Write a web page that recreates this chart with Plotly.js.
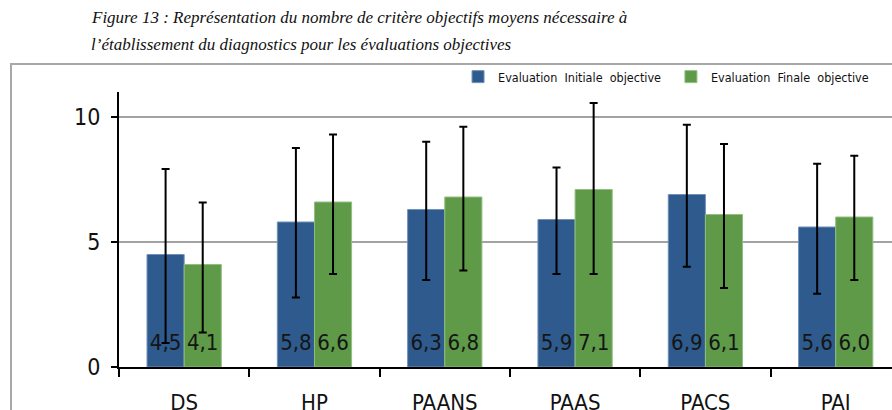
<!DOCTYPE html>
<html>
<head>
<meta charset="utf-8">
<script src="https://cdn.plot.ly/plotly-3.0.1.min.js"></script>
<style>html,body{margin:0;padding:0;background:#fff;}#chart{width:892px;height:410px;}</style>
</head>
<body>
<div id="chart"></div>
<script>
const categories = ['DS', 'HP', 'PAANS', 'PAAS', 'PACS', 'PAI'];
const initiale = [4.5, 5.8, 6.3, 5.9, 6.9, 5.6];
const finale = [4.1, 6.6, 6.8, 7.1, 6.1, 6.0];
const initialePlus = [3.42, 2.96, 2.71, 2.08, 2.79, 2.53];
const initialeMinus = [3.54, 3.02, 2.82, 2.18, 2.89, 2.67];
const finalePlus = [2.48, 2.70, 2.81, 3.46, 2.82, 2.45];
const finaleMinus = [2.72, 2.88, 2.94, 3.38, 2.94, 2.52];
const seriesNames = ['Evaluation  Initiale  objective', 'Evaluation  Finale  objective'];
const titleLine1 = 'Figure 13 : Représentation du nombre de critère objectifs moyens nécessaire à';
const titleLine2 = 'l’établissement du diagnostics pour les évaluations objectives';

const sans = 'Liberation Sans Narrow, DejaVu Sans Condensed, Lato, sans-serif';
const fmt = v => v.toFixed(1).replace('.', ',');
const labelLevel = 0.9; // vertical position of the value labels, in axis units

function barTrace(name, y, plus, minus, color, edge, legendId) {
  return {
    type: 'bar', name: name, x: categories, y: y, legend: legendId,
    marker: {color: color, line: {color: edge, width: 1}},
    error_y: {type: 'data', symmetric: false, array: plus, arrayminus: minus,
              color: '#000', thickness: 2, width: 4},
    hoverinfo: 'none'
  };
}
function labelTrace(y) {
  return {
    type: 'scatter', mode: 'text', x: categories, y: categories.map(() => labelLevel),
    text: y.map(fmt), textposition: 'middle center',
    textfont: {family: sans, size: 22, color: '#151515'},
    showlegend: false, hoverinfo: 'none'
  };
}

const data = [
  barTrace(seriesNames[0], initiale, initialePlus, initialeMinus, '#2E5A8D', '#7190B8', 'legend'),
  barTrace(seriesNames[1], finale, finalePlus, finaleMinus, '#5E9A48', '#93BE80', 'legend2'),
  labelTrace(initiale),
  labelTrace(finale)
];

const legendStyle = {orientation: 'h', xanchor: 'left', y: 1.0545, yanchor: 'middle',
  font: {family: sans, size: 12.5, color: '#111'}, bgcolor: 'rgba(0,0,0,0)'};

const layout = {
  width: 892, height: 410,
  margin: {l: 119, r: 0, t: 92, b: 43, pad: 0},
  paper_bgcolor: '#fff', plot_bgcolor: '#fff',
  barmode: 'group', bargap: 0.43, bargroupgap: 0,
  scattermode: 'group', scattergap: 0.43,
  font: {family: sans, color: '#111'},
  showlegend: true,
  legend: Object.assign({}, legendStyle, {x: 0.4386}),
  legend2: Object.assign({}, legendStyle, {x: 0.714}),
  xaxis: {type: 'category', range: [-0.5, 5.432], showline: true, linecolor: '#000', linewidth: 2,
          ticks: 'outside', tickson: 'boundaries', ticklen: 8, tickwidth: 2, tickcolor: '#000',
          tickfont: {family: sans, size: 22, color: '#111'}, ticklabelstandoff: 15,
          showgrid: false, zeroline: false, fixedrange: true},
  yaxis: {range: [0, 11], tickvals: [0, 5, 10], ticktext: ['0', '5', '10'],
          showline: true, linecolor: '#000', linewidth: 2,
          ticks: 'outside', ticklen: 6, tickwidth: 2, tickcolor: '#000',
          tickfont: {family: sans, size: 23, color: '#111'}, ticklabelstandoff: 6,
          showgrid: true, gridcolor: '#A3A3A3', gridwidth: 2, zeroline: false, fixedrange: true},
  shapes: [{type: 'rect', xref: 'paper', yref: 'paper', x0: -0.1397, x1: 1.05, y0: -0.5, y1: 1.1018,
            line: {color: '#A8A8A8', width: 2}, fillcolor: 'rgba(0,0,0,0)', layer: 'below'}],
  annotations: [
    {text: titleLine1, xref: 'paper', yref: 'paper', x: -0.0388, y: 1.2727, xanchor: 'left', yanchor: 'middle',
     showarrow: false, font: {family: 'Liberation Serif, serif', style: 'italic', size: 17, color: '#111'}},
    {text: titleLine2, xref: 'paper', yref: 'paper', x: -0.0388, y: 1.1745, xanchor: 'left', yanchor: 'middle',
     showarrow: false, font: {family: 'Liberation Serif, serif', style: 'italic', size: 17, color: '#111'}}
  ]
};

Plotly.newPlot('chart', data, layout, {staticPlot: true, displayModeBar: false});
</script>
</body>
</html>
